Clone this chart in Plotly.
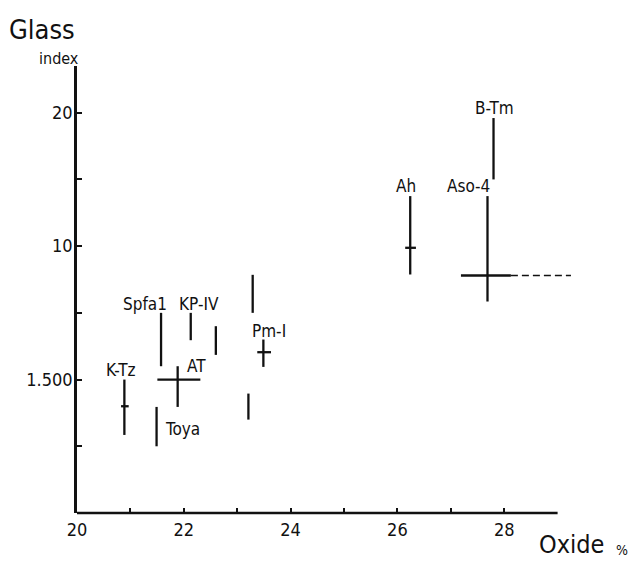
import plotly.graph_objects as go

# ---- data (oxide %, glass index scale units) ----
bar_names = ["K-Tz", "Spfa1", "KP-IV", "", "AT", "Toya", "", "Pm-I", "", "Ah", "Aso-4", "B-Tm"]
bar_oxide = [20.887, 21.574, 22.13, 22.60, 21.885, 21.49, 23.21, 23.49, 23.29, 26.24, 27.687, 27.80]
bar_low = [1.17, 2.20, 2.59, 2.37, 1.59, 1.00, 1.40, 2.19, 3.00, 3.575, 3.17, 5.00]
bar_high = [2.00, 3.00, 3.00, 2.80, 2.20, 1.59, 1.79, 2.60, 3.57, 4.75, 4.75, 5.92]

cross_names = ["K-Tz", "AT", "Pm-I", "Ah", "Aso-4"]
cross_index = [1.60, 2.00, 2.41, 3.975, 3.56]
cross_low = [20.825, 21.505, 23.376, 26.146, 27.19]
cross_high = [20.968, 22.31, 23.633, 26.347, 28.125]
aso4_dash_end = 29.25

label_text = ["K-Tz", "Spfa1", "KP-IV", "AT", "Toya", "Pm-I", "Ah", "Aso-4", "B-Tm"]
label_x = [20.825, 21.276, 22.29, 22.235, 21.98, 23.59, 26.16, 27.34, 27.82]
label_y = [2.14, 3.14, 3.14, 2.21, 1.26, 2.73, 4.90, 4.90, 6.07]

y_tickvals = [0, 1, 2, 3, 4, 5, 6]
y_ticktext = ["", "", "1.500", "", "10", "", "20"]
x_tickvals = [20, 21, 22, 23, 24, 25, 26, 27, 28]
x_ticktext = ["20", "", "22", "", "24", "", "26", "", "28"]

FONT = "DejaVu Sans Condensed, DejaVu Sans, sans-serif"
INK = "#111111"

fig = go.Figure()

# vertical range bars
vx, vy = [], []
for x, lo, hi in zip(bar_oxide, bar_low, bar_high):
    vx += [x, x, None]
    vy += [lo, hi, None]
fig.add_trace(go.Scatter(x=vx, y=vy, mode="lines",
                         line=dict(color=INK, width=2.3), hoverinfo="skip", showlegend=False))

# horizontal bars (crosses)
hx, hy = [], []
for yv, lo, hi in zip(cross_index, cross_low, cross_high):
    hx += [lo, hi, None]
    hy += [yv, yv, None]
fig.add_trace(go.Scatter(x=hx, y=hy, mode="lines",
                         line=dict(color=INK, width=2.3), hoverinfo="skip", showlegend=False))

# dashed extension of Aso-4
i_aso = cross_names.index("Aso-4")
fig.add_trace(go.Scatter(x=[cross_high[i_aso], aso4_dash_end],
                         y=[cross_index[i_aso], cross_index[i_aso]], mode="lines",
                         line=dict(color=INK, width=1.4, dash="7px,4px"),
                         hoverinfo="skip", showlegend=False))

annotations = []
for t, x, y in zip(label_text, label_x, label_y):
    annotations.append(dict(x=x, y=y, xref="x", yref="y", text=t, showarrow=False,
                            xanchor="center", yanchor="middle",
                            font=dict(family=FONT, size=17, color=INK)))

annotations += [
    dict(x=-0.0659, y=1.082, xref="paper", yref="paper", text="Glass", showarrow=False,
         xanchor="center", yanchor="middle", font=dict(family=FONT, size=27, color=INK)),
    dict(x=-0.0328, y=1.016, xref="paper", yref="paper", text="index", showarrow=False,
         xanchor="center", yanchor="middle", font=dict(family=FONT, size=16, color=INK)),
    dict(x=0.926, y=-0.071, xref="paper", yref="paper", text="Oxide", showarrow=False,
         xanchor="center", yanchor="middle", font=dict(family=FONT, size=25, color=INK)),
    dict(x=1.0197, y=-0.083, xref="paper", yref="paper", text="%", showarrow=False,
         xanchor="center", yanchor="middle", font=dict(family=FONT, size=14, color=INK)),
]

fig.update_layout(
    width=631, height=562,
    margin=dict(l=77, r=20, t=66, b=49),
    paper_bgcolor="white", plot_bgcolor="white",
    showlegend=False,
    annotations=annotations,
    shapes=[dict(type="line", xref="x", yref="paper", x0=20, x1=29, y0=0, y1=0,
                 line=dict(color=INK, width=2.5))],
    font=dict(family=FONT, color=INK),
)
fig.update_xaxes(range=[20, 30], showline=False, showgrid=False, zeroline=False,
                 tickmode="array", tickvals=x_tickvals, ticktext=x_ticktext,
                 ticks="inside", ticklen=5, tickwidth=1.5, tickcolor=INK,
                 ticklabelstandoff=4,
                 tickfont=dict(family=FONT, size=18, color=INK))
fig.update_yaxes(range=[0, 6.7], showline=True, linewidth=2.5, linecolor=INK,
                 showgrid=False, zeroline=False,
                 tickmode="array", tickvals=y_tickvals, ticktext=y_ticktext,
                 ticks="inside", ticklen=5, tickwidth=1.5, tickcolor=INK,
                 ticklabelstandoff=-2,
                 tickfont=dict(family=FONT, size=18, color=INK))

fig.write_html("out.html")
